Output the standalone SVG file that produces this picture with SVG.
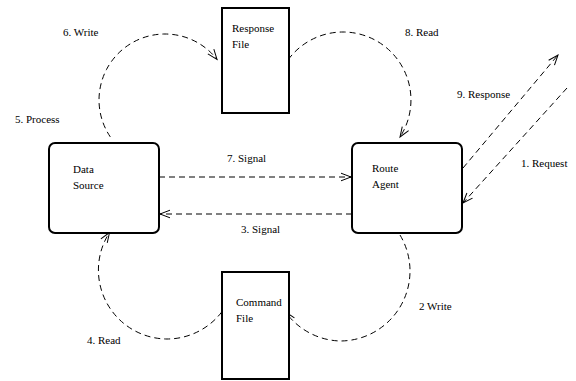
<svg xmlns="http://www.w3.org/2000/svg" width="576" height="381" viewBox="0 0 576 381">
  <style>
    .lbl { font-family: "Liberation Serif", "DejaVu Serif", "Times New Roman", Times, serif; font-size: 11px; fill: #000; }
    .proc { fill: #fff; stroke: #000; stroke-width: 2; }
    .file { fill: #fff; stroke: #000; stroke-width: 2; }
    .flow { fill: none; stroke: #000; stroke-width: 1; stroke-dasharray: 6 4; }
  </style>
  <defs>
    <marker id="open" markerUnits="userSpaceOnUse" viewBox="-12 -6 14 12" refX="0" refY="0" markerWidth="14" markerHeight="12" orient="auto" overflow="visible">
      <path d="M-10,-3.8 L0,0 L-10,3.8" fill="none" stroke="#000" stroke-width="1"/>
    </marker>
  </defs>
  <rect width="576" height="381" fill="#fff"/>

  <!-- connectors -->
  <g id="connectors">
    <!-- 6. Write: Data Source -> Response File -->
    <path class="flow" d="M110.3,136.9 A66,66 0 0,1 165,34 A66,66 0 0,1 217,59.4" marker-end="url(#open)"/>
    <!-- 8. Read: Response File -> Route Agent -->
    <path class="flow" d="M288.3,59.5 A68,68 0 0,1 343,32 A68,68 0 0,1 400,137" marker-end="url(#open)"/>
    <!-- 7. Signal -->
    <path class="flow" d="M159,177 L351,177" marker-end="url(#open)"/>
    <!-- 3. Signal -->
    <path class="flow" d="M352,214 L160,214" marker-end="url(#open)"/>
    <!-- 2 Write: Route Agent -> Command File -->
    <path class="flow" d="M400,235 A70,70 0 0,1 410,271 A70,70 0 0,1 340,341 A70,70 0 0,1 285.5,312" marker-end="url(#open)"/>
    <!-- 4. Read: Command File -> Data Source -->
    <path class="flow" d="M221.8,311.9 A69,69 0 0,1 167,339 A69,69 0 0,1 109.5,232.5" marker-end="url(#open)"/>
    <!-- 9. Response -->
    <path class="flow" d="M463,168 L558,55" marker-end="url(#open)"/>
    <!-- 1. Request -->
    <path class="flow" d="M567,88 L463,203" marker-end="url(#open)"/>
  </g>

  <g id="data-source">
    <rect class="proc" x="49" y="143" width="110" height="90" rx="6"/>
    <text class="lbl" x="73" y="173">Data</text>
    <text class="lbl" x="73" y="189">Source</text>
  </g>

  <g id="route-agent">
    <rect class="proc" x="352" y="143" width="110" height="90" rx="6"/>
    <text class="lbl" x="372" y="172">Route</text>
    <text class="lbl" x="372" y="188">Agent</text>
  </g>

  <g id="response-file">
    <rect class="file" x="222" y="8" width="67" height="105"/>
    <text class="lbl" x="232" y="32">Response</text>
    <text class="lbl" x="232" y="48">File</text>
  </g>

  <g id="command-file">
    <rect class="file" x="222" y="272" width="67" height="107"/>
    <text class="lbl" x="236" y="306">Command</text>
    <text class="lbl" x="236" y="322">File</text>
  </g>

  <g id="labels">
    <text class="lbl" x="63" y="36">6. Write</text>
    <text class="lbl" x="15" y="123">5. Process</text>
    <text class="lbl" x="227" y="162">7. Signal</text>
    <text class="lbl" x="405" y="36">8. Read</text>
    <text class="lbl" x="457" y="98">9. Response</text>
    <text class="lbl" x="521" y="167">1. Request</text>
    <text class="lbl" x="241" y="233">3. Signal</text>
    <text class="lbl" x="87" y="344">4. Read</text>
    <text class="lbl" x="419" y="310">2 Write</text>
  </g>
</svg>
